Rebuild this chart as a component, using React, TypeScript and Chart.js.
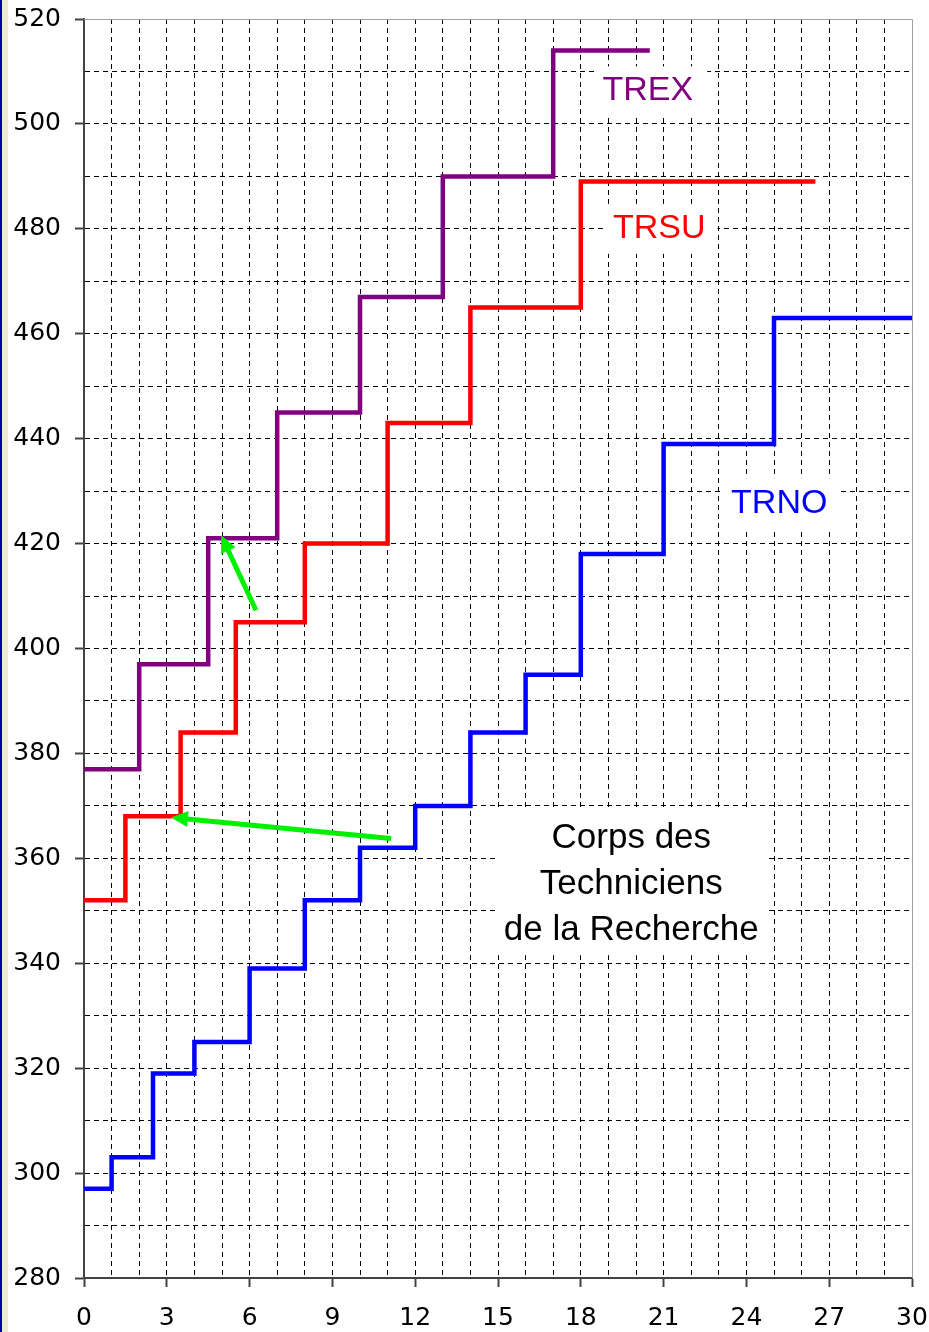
import { useEffect, useRef } from 'react';
import { Chart, registerables } from 'chart.js';
Chart.register(...registerables);

// ---- data ----
const TRNO_X = [0, 1, 2.5, 4, 6, 8, 10, 12, 14, 16, 18, 21, 25, 30];
const TRNO_Y = [297, 303, 319, 325, 339, 352, 362, 370, 384, 395, 418, 439, 463, 463];
const TRSU_X = [0, 1.5, 3.5, 5.5, 8, 11, 14, 18, 26.5];
const TRSU_Y = [352, 368, 384, 405, 420, 443, 465, 489, 489];
const TREX_X = [0, 2, 4.5, 7, 10, 13, 17, 20.5];
const TREX_Y = [377, 397, 421, 445, 467, 490, 514, 514];

const X_MIN = 0;
const X_MAX = 30;
const X_LABEL_STEP = 3;
const Y_MIN = 280;
const Y_MAX = 520;
const Y_LABEL_STEP = 20;

const SERIES_NAMES = ['TRNO', 'TRSU', 'TREX'];
const NAME_X = [25.19, 20.84, 20.43];
const NAME_Y = [427.7, 480.0, 506.4];

const ARROW_TAIL_X = [11.13, 6.23];
const ARROW_TAIL_Y = [363.8, 407.3];
const ARROW_TIP_X = [3.15, 4.97];
const ARROW_TIP_Y = [367.8, 421.6];

const TITLE_LINES = ['Corps des', 'Techniciens', 'de la Recherche'];
const TITLE_X = 19.83;
const TITLE_Y = [363.9, 355.1, 346.3];

// ---- styles ----
const COLORS = ['#0000ff', '#ff0000', '#800080'];
const GREEN = '#00f000';
const NAME_FONT = '34px "Liberation Sans", Arial, sans-serif';
const TITLE_FONT = '35px "Liberation Sans", Arial, sans-serif';
const TICK_FONT = { family: '"DejaVu Sans"', size: 25 };
const NAME_PAD = [
  { l: 10, r: 13, t: 25, b: 25 },
  { l: 10, r: 12, t: 25, b: 25 },
  { l: 8, r: 14, t: 24, b: 26 },
];

const toPts = (xs: number[], ys: number[]) => xs.map((x, i) => ({ x, y: ys[i] }));

function drawArrow(ctx: CanvasRenderingContext2D, x1: number, y1: number, x2: number, y2: number) {
  const ang = Math.atan2(y2 - y1, x2 - x1);
  const headLen = 17;
  const headW = 8;
  const bx = x2 - headLen * Math.cos(ang);
  const by = y2 - headLen * Math.sin(ang);
  ctx.save();
  ctx.strokeStyle = GREEN;
  ctx.fillStyle = GREEN;
  ctx.lineWidth = 5;
  ctx.lineCap = 'butt';
  ctx.beginPath();
  ctx.moveTo(x1, y1);
  ctx.lineTo(bx + Math.cos(ang), by + Math.sin(ang));
  ctx.stroke();
  ctx.beginPath();
  ctx.moveTo(x2, y2);
  ctx.lineTo(bx + headW * Math.sin(ang), by - headW * Math.cos(ang));
  ctx.lineTo(bx - headW * Math.sin(ang), by + headW * Math.cos(ang));
  ctx.closePath();
  ctx.fill();
  ctx.restore();
}

const annotPlugin = {
  id: 'annot',
  beforeDatasetsDraw(chart: any) {
    const { ctx, scales } = chart;
    const xs = scales.x;
    const ys = scales.y;
    ctx.save();
    ctx.fillStyle = '#ffffff';
    ctx.font = NAME_FONT;
    SERIES_NAMES.forEach((name, i) => {
      const cx = xs.getPixelForValue(NAME_X[i]);
      const cy = ys.getPixelForValue(NAME_Y[i]);
      const w = ctx.measureText(name).width;
      const p = NAME_PAD[i];
      ctx.fillRect(cx - w / 2 - p.l, cy - p.t, w + p.l + p.r, p.t + p.b);
    });
    ctx.font = TITLE_FONT;
    const tx = xs.getPixelForValue(TITLE_X);
    const ty0 = ys.getPixelForValue(TITLE_Y[0]);
    const ty2 = ys.getPixelForValue(TITLE_Y[TITLE_Y.length - 1]);
    let maxW = 0;
    TITLE_LINES.forEach((t) => (maxW = Math.max(maxW, ctx.measureText(t).width)));
    ctx.fillRect(tx - maxW / 2 - 8, ty0 - 30, maxW + 16, ty2 - ty0 + 55);
    ctx.restore();
  },
  afterDatasetsDraw(chart: any) {
    const { ctx, scales, chartArea } = chart;
    const xs = scales.x;
    const ys = scales.y;
    ctx.save();
    ctx.strokeStyle = '#a0a0a0';
    ctx.lineWidth = 1;
    ctx.beginPath();
    ctx.moveTo(Math.round(chartArea.left), Math.round(chartArea.top) + 0.5);
    ctx.lineTo(Math.round(chartArea.right) + 0.5, Math.round(chartArea.top) + 0.5);
    ctx.lineTo(Math.round(chartArea.right) + 0.5, Math.round(chartArea.bottom));
    ctx.stroke();
    for (let i = 0; i < ARROW_TAIL_X.length; i++) {
      drawArrow(
        ctx,
        xs.getPixelForValue(ARROW_TAIL_X[i]),
        ys.getPixelForValue(ARROW_TAIL_Y[i]),
        xs.getPixelForValue(ARROW_TIP_X[i]),
        ys.getPixelForValue(ARROW_TIP_Y[i])
      );
    }
    ctx.textAlign = 'center';
    ctx.textBaseline = 'middle';
    ctx.font = NAME_FONT;
    SERIES_NAMES.forEach((name, i) => {
      ctx.fillStyle = COLORS[i];
      ctx.fillText(name, xs.getPixelForValue(NAME_X[i]), ys.getPixelForValue(NAME_Y[i]));
    });
    ctx.font = TITLE_FONT;
    ctx.fillStyle = '#000000';
    TITLE_LINES.forEach((t, i) => {
      ctx.fillText(t, xs.getPixelForValue(TITLE_X), ys.getPixelForValue(TITLE_Y[i]));
    });
    ctx.restore();
  },
};

const zeroPad = (s: any) => {
  s.paddingTop = 0;
  s.paddingBottom = 0;
  s.paddingLeft = 0;
  s.paddingRight = 0;
};

export default function App() {
  const ref = useRef<HTMLCanvasElement>(null);
  useEffect(() => {
    const seriesX = [TRNO_X, TRSU_X, TREX_X];
    const seriesY = [TRNO_Y, TRSU_Y, TREX_Y];
    const chart = new Chart(ref.current as HTMLCanvasElement, {
      type: 'line',
      data: {
        datasets: SERIES_NAMES.map((name, i) => ({
          label: name,
          data: toPts(seriesX[i], seriesY[i]),
          borderColor: COLORS[i],
          backgroundColor: COLORS[i],
          borderWidth: 4.5,
          pointRadius: 0,
          fill: false,
          stepped: 'before' as const,
          borderJoinStyle: 'miter' as const,
          borderCapStyle: 'butt' as const,
        })),
      },
      options: {
        animation: false,
        responsive: false,
        events: [],
        layout: { padding: { top: 19, right: 17, left: 0, bottom: 0 } },
        plugins: { legend: { display: false }, tooltip: { enabled: false }, title: { display: false } },
        scales: {
          x: {
            type: 'linear',
            min: X_MIN,
            max: X_MAX,
            afterFit: (s: any) => {
              s.height = 54;
              zeroPad(s);
            },
            ticks: {
              stepSize: 1,
              autoSkip: false,
              maxRotation: 0,
              padding: 16,
              color: '#000',
              font: TICK_FONT,
              callback: (v: any) => (Number(v) % X_LABEL_STEP === 0 ? String(v) : ''),
            },
            grid: {
              color: (c: any) =>
                c.tick && (c.tick.value === X_MIN || c.tick.value === X_MAX) ? 'rgba(0,0,0,0)' : '#000',
              lineWidth: 1,
              drawTicks: true,
              tickLength: 9,
              tickWidth: 2,
              tickBorderDash: [20, 0],
              tickColor: (c: any) =>
                c.tick && c.tick.value % X_LABEL_STEP === 0 ? '#444' : 'rgba(0,0,0,0)',
            },
            border: { display: true, color: '#444', width: 2, dash: [5, 4] },
          },
          y: {
            type: 'linear',
            min: Y_MIN,
            max: Y_MAX,
            afterFit: (s: any) => {
              s.width = 84;
              zeroPad(s);
            },
            ticks: {
              stepSize: 10,
              autoSkip: false,
              padding: 14,
              color: '#000',
              font: TICK_FONT,
              callback: (v: any) => (Number(v) % Y_LABEL_STEP === 0 ? String(v) : ''),
            },
            grid: {
              color: (c: any) =>
                c.tick && (c.tick.value === Y_MIN || c.tick.value === Y_MAX) ? 'rgba(0,0,0,0)' : '#000',
              lineWidth: 1,
              drawTicks: true,
              tickLength: 9,
              tickWidth: 2,
              tickBorderDash: [20, 0],
              tickColor: (c: any) =>
                c.tick && c.tick.value % Y_LABEL_STEP === 0 ? '#444' : 'rgba(0,0,0,0)',
            },
            border: { display: true, color: '#444', width: 2, dash: [5, 4] },
          },
        },
      },
      plugins: [annotPlugin],
    } as any);
    return () => chart.destroy();
  }, []);
  return (
    <div
      style={{
        position: 'absolute',
        left: 0,
        top: 0,
        width: 929,
        height: 1332,
        background: '#ffffff',
        overflow: 'hidden',
      }}
    >
      <canvas ref={ref} width={929} height={1332} style={{ display: 'block', width: 929, height: 1332 }} />
      <div style={{ position: 'absolute', left: 0, top: 0, width: 2, height: 1332, background: '#0000a8' }} />
      <div style={{ position: 'absolute', left: 2, top: 0, width: 6, height: 1332, background: '#ece9d8' }} />
    </div>
  );
}
